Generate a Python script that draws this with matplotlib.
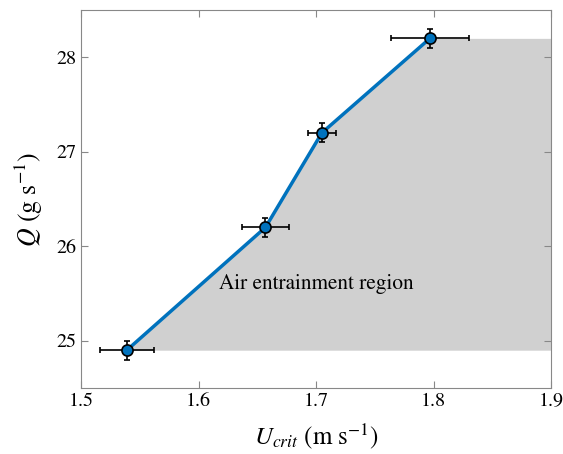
import matplotlib
matplotlib.use("Agg")
import matplotlib.pyplot as plt

u_crit = [1.539, 1.657, 1.705, 1.797]
q = [24.9, 26.2, 27.2, 28.2]
u_err = [0.023, 0.020, 0.012, 0.033]
q_err = [0.1, 0.1, 0.1, 0.1]
x_edge = 1.9

plt.rcParams['font.family'] = 'serif'
plt.rcParams['font.serif'] = ['STIXGeneral', 'Liberation Serif', 'DejaVu Serif']
plt.rcParams['mathtext.fontset'] = 'stix'

fig = plt.figure(figsize=(5.63, 4.54), dpi=100)
ax = fig.add_axes([81/563, 1-388/454, (551-81)/563, (388-10)/454])

fx = u_crit + [x_edge]
fy = q + [q[-1]]
ax.fill_between(fx, fy, q[0], color='#d0d0d0', linewidth=0, zorder=1)
ax.plot(u_crit, q, color='#0072BD', linewidth=2.5, zorder=2)
ax.errorbar(u_crit, q, xerr=u_err, yerr=q_err, fmt='o', color='#0072BD',
            markersize=8, markeredgecolor='black', markeredgewidth=1.2,
            ecolor='black', elinewidth=1.2, capsize=2.5, capthick=1.2, zorder=3)
ax.text(1.7, 25.6, 'Air entrainment region', ha='center', va='center', fontsize=15.3)

ax.set_xlim(1.5, 1.9)
ax.set_ylim(24.5, 28.5)
ax.set_xticks([1.5, 1.6, 1.7, 1.8, 1.9])
ax.set_yticks([25, 26, 27, 28])
ax.tick_params(direction='in', top=True, right=True, labelsize=14.5, color='#888888', length=5)
for s in ax.spines.values():
    s.set_color('#888888')
    s.set_linewidth(0.8)
ax.set_xlabel(r'$U_{crit}$ (m s$^{-1}$)', fontsize=18, labelpad=8)
ax.set_ylabel(r'$Q$ (g s$^{-1}$)', fontsize=18.5, labelpad=8)

fig.savefig('out.png', dpi=100)
